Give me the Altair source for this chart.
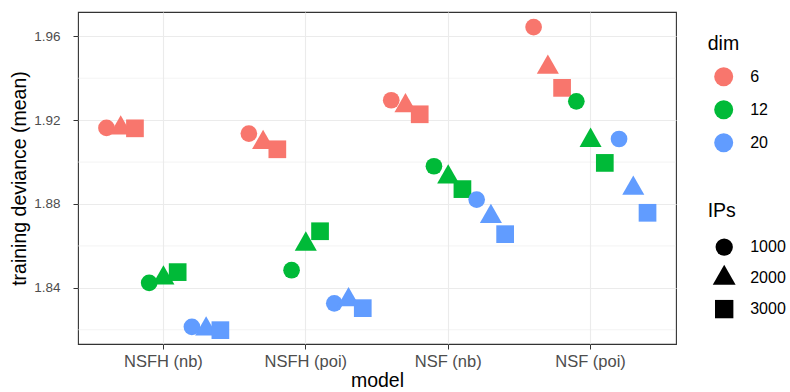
import altair as alt
import pandas as pd

models = ["NSFH (nb)", "NSFH (poi)", "NSF (nb)", "NSF (poi)"]
dims = ["6", "12", "20"]
ips = ["1000", "2000", "3000"]

# values per model, ordered dim 6 (1000,2000,3000), dim 12 (...), dim 20 (...)
dev_nsfh_nb = [1.9163, 1.9162, 1.9161, 1.8424, 1.8446, 1.8475, 1.8214, 1.8203, 1.8198]
dev_nsfh_poi = [1.9136, 1.9093, 1.9061, 1.8484, 1.8608, 1.8670, 1.8326, 1.8343, 1.8303]
dev_nsf_nb = [1.9295, 1.9268, 1.9228, 1.8980, 1.8928, 1.8871, 1.8821, 1.8740, 1.8656]
dev_nsf_poi = [1.9644, 1.9452, 1.9354, 1.9290, 1.9103, 1.8996, 1.9110, 1.8875, 1.8758]

major_ticks = [1.84, 1.88, 1.92, 1.96]
minor_ticks = [1.82, 1.86, 1.90, 1.94]

colors = ["#F8766D", "#00BA38", "#619CFF"]
shapes = [
    "circle",
    "M0,-1.54L1.32,0.77L-1.32,0.77Z",
    "M-1.06,-1.06L1.06,-1.06L1.06,1.06L-1.06,1.06Z",
]

rows = []
for m, vals in zip(models, [dev_nsfh_nb, dev_nsfh_poi, dev_nsf_nb, dev_nsf_poi]):
    i = 0
    for d in dims:
        for p in ips:
            rows.append({"model": m, "dim": d, "IPs": p, "grp": f"{d}-{p}", "dev": vals[i]})
            i += 1
df = pd.DataFrame(rows)
groups = [f"{d}-{p}" for d in dims for p in ips]
minor_df = pd.DataFrame({"y": minor_ticks})

FONT = "Liberation Sans"
yscale = alt.Scale(domain=[1.8132, 1.9716], nice=False, zero=False)
y_axis = alt.Axis(
    title="training deviance (mean)",
    values=major_ticks,
    format=".2f",
    labelFontSize=13.5,
    labelColor="#4D4D4D",
    labelPadding=13,
    tickColor="#333333",
    tickSize=5,
    tickWidth=1,
    domain=False,
    grid=True,
    gridColor="#EBEBEB",
    gridWidth=1.1,
    titleFontSize=19.5,
    titleFontWeight="normal",
    titleColor="black",
    titlePadding=4,
)

minor = alt.Chart(minor_df).mark_rule(color="#EBEBEB", strokeWidth=0.6).encode(
    y=alt.Y("y:Q", scale=yscale, axis=y_axis, title="training deviance (mean)")
)

points = alt.Chart(df).mark_point(filled=True, opacity=1, size=279, strokeWidth=0).encode(
    x=alt.X(
        "model:N",
        sort=models,
        scale=alt.Scale(paddingInner=0.2, paddingOuter=0.2),
        axis=alt.Axis(
            title="model",
            labelAngle=0,
            labelFontSize=16.5,
            labelColor="#4D4D4D",
            labelPadding=4,
            tickColor="#333333",
            tickSize=5,
            tickWidth=1,
            domain=False,
            grid=True,
            gridColor="#EBEBEB",
            gridWidth=1.1,
            bandPosition=0.5,
            titleFontSize=19.5,
            titleFontWeight="normal",
            titleColor="black",
            titlePadding=2,
        ),
    ),
    xOffset=alt.XOffset("grp:N", sort=groups, scale=alt.Scale(paddingInner=0, paddingOuter=0)),
    y=alt.Y("dev:Q", scale=yscale, axis=y_axis, title="training deviance (mean)"),
    color=alt.Color(
        "dim:N",
        sort=dims,
        scale=alt.Scale(domain=dims, range=colors),
        legend=alt.Legend(
            orient="none",
            legendX=629.7,
            legendY=22.7,
            padding=0,
            symbolType="circle",
            symbolSize=361,
            symbolStrokeWidth=0,
            symbolOffset=6.5,
            labelOffset=17,
            rowPadding=14,
            titlePadding=13,
        ),
    ),
    shape=alt.Shape(
        "IPs:N",
        sort=ips,
        scale=alt.Scale(domain=ips, range=shapes),
        legend=alt.Legend(
            orient="none",
            legendX=629.7,
            legendY=189.6,
            padding=0,
            symbolSize=300,
            symbolStrokeWidth=0,
            symbolOffset=7.5,
            labelOffset=17,
            rowPadding=7,
            gridAlign="all",
            titlePadding=17,
        ),
    ),
)

chart = (
    alt.layer(minor, points)
    .properties(
        width=598,
        height=332,
        autosize=alt.AutoSizeParams(type="none"),
        padding={"left": 78, "top": 12, "right": 114, "bottom": 48},
    )
    .configure(font=FONT)
    .configure_view(stroke="#333333", strokeWidth=1.1)
    .configure_legend(
        titleFontSize=19.5,
        titleFontWeight="normal",
        titleColor="black",
        labelFontSize=16,
        labelColor="black",
        titleFont=FONT,
        labelFont=FONT,
    )
    .configure_axis(labelFont=FONT, titleFont=FONT)
)

chart.save("out.html", embed_options={"renderer": "svg", "actions": False})
